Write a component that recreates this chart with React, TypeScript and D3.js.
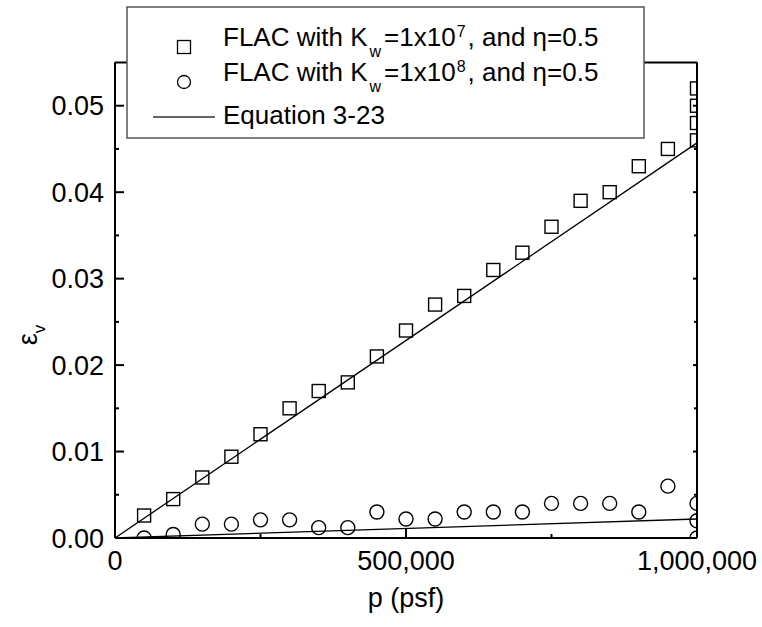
import React from "react";
import * as d3 from "d3";

const squareP = [50000, 100000, 150000, 200000, 250000, 300000, 350000, 400000, 450000, 500000, 550000, 600000, 650000, 700000, 750000, 800000, 850000, 900000, 950000, 1000000, 1000000, 1000000, 1000000];
const squareEps = [0.0026, 0.0045, 0.007, 0.0094, 0.012, 0.015, 0.017, 0.018, 0.021, 0.024, 0.027, 0.028, 0.031, 0.033, 0.036, 0.039, 0.04, 0.043, 0.045, 0.046, 0.048, 0.05, 0.052];

const circleP = [50000, 100000, 150000, 200000, 250000, 300000, 350000, 400000, 450000, 500000, 550000, 600000, 650000, 700000, 750000, 800000, 850000, 900000, 950000, 1000000, 1000000, 1000000];
const circleEps = [0, 0.0004, 0.0016, 0.0016, 0.0021, 0.0021, 0.0012, 0.0012, 0.003, 0.0022, 0.0022, 0.003, 0.003, 0.003, 0.004, 0.004, 0.004, 0.003, 0.006, 0.004, 0.002, 0];

const eqP = [0, 1000000];
const eqEps1 = [0, 0.0457];
const eqEps2 = [0, 0.0022];

const xMajor = [0, 500000, 1000000];
const xMinor = [250000, 750000];
const xTickLabels = ["0", "500,000", "1,000,000"];
const yMajor = [0, 0.01, 0.02, 0.03, 0.04, 0.05];
const yMinor = [0.005, 0.015, 0.025, 0.035, 0.045];
const yTickLabels = ["0.00", "0.01", "0.02", "0.03", "0.04", "0.05"];

const FONT = "'Liberation Sans', Arial, sans-serif";

export default function App() {
  const L = 115, R = 697, T = 62.5, B = 538;
  const x = d3.scaleLinear().domain([0, 1000000]).range([L, R]);
  const y = d3.scaleLinear().domain([0, 0.055]).range([B, T]);
  const line = d3.line<[number, number]>().x(d => x(d[0])).y(d => y(d[1]));
  const ms = 13;

  return (
    <svg width={762} height={627} style={{ position: "absolute", left: 0, top: 0, background: "#fff" }} fontFamily={FONT}>
      <defs>
        <clipPath id="plotclip">
          <rect x={L} y={T} width={R - L} height={B - T} />
        </clipPath>
      </defs>
      <rect x={0} y={0} width={762} height={627} fill="#fff" />
      <g clipPath="url(#plotclip)">
        <path d={line(eqP.map((p, i) => [p, eqEps1[i]]) as [number, number][]) || ""} fill="none" stroke="#000" strokeWidth={1.3} />
        <path d={line(eqP.map((p, i) => [p, eqEps2[i]]) as [number, number][]) || ""} fill="none" stroke="#000" strokeWidth={1.3} />
        {squareP.map((p, i) => (
          <rect key={"s" + i} x={x(p) - ms / 2} y={y(squareEps[i]) - ms / 2} width={ms} height={ms} fill="none" stroke="#000" strokeWidth={1.4} />
        ))}
        {circleP.map((p, i) => (
          <circle key={"c" + i} cx={x(p)} cy={y(circleEps[i])} r={ms / 2 + 0.5} fill="none" stroke="#000" strokeWidth={1.4} />
        ))}
      </g>
      <g stroke="#000" strokeWidth={2} fill="none">
        <line x1={L} y1={B} x2={R} y2={B} />
        <line x1={L} y1={T} x2={L} y2={B} />
        <line x1={R} y1={T} x2={R} y2={B} />
        <line x1={L} y1={T} x2={R} y2={T} />
      </g>
      <g stroke="#000" strokeWidth={2}>
        {yMajor.map((v, i) => <line key={"ym" + i} x1={L} x2={L + 9} y1={y(v)} y2={y(v)} />)}
        {yMinor.map((v, i) => <line key={"yn" + i} x1={L} x2={L + 4} y1={y(v)} y2={y(v)} />)}
        {yMajor.map((v, i) => <line key={"yr" + i} x1={R} x2={R - 4} y1={y(v)} y2={y(v)} />)}
        {yMinor.map((v, i) => <line key={"yrn" + i} x1={R} x2={R - 3} y1={y(v)} y2={y(v)} />)}
        {xMajor.map((v, i) => <line key={"xm" + i} x1={x(v)} x2={x(v)} y1={B} y2={B - 9} />)}
        {xMinor.map((v, i) => <line key={"xn" + i} x1={x(v)} x2={x(v)} y1={B} y2={B - 4} />)}
        {xMajor.map((v, i) => <line key={"xt" + i} x1={x(v)} x2={x(v)} y1={T} y2={T + 4} />)}
        {xMinor.map((v, i) => <line key={"xtn" + i} x1={x(v)} x2={x(v)} y1={T} y2={T + 3} />)}
      </g>
      <g fontSize={27} fill="#000">
        {yMajor.map((v, i) => (
          <text key={"yl" + i} x={104} y={y(v)} dy="0.36em" textAnchor="end">{yTickLabels[i]}</text>
        ))}
        {xMajor.map((v, i) => (
          <text key={"xl" + i} x={x(v)} y={570} textAnchor="middle">{xTickLabels[i]}</text>
        ))}
      </g>
      <text x={(L + R) / 2} y={607} fontSize={27} textAnchor="middle">p (psf)</text>
      <text transform={`translate(37, 335) rotate(-90)`} fontSize={27} textAnchor="middle">
        ε<tspan fontSize={17} dy={8}>v</tspan>
      </text>
      <rect x={127} y={7} width={517} height={131} fill="#fff" stroke="#555" strokeWidth={1.5} />
      <rect x={184 - 6.5} y={47 - 6.5} width={13} height={13} fill="none" stroke="#000" strokeWidth={1.3} />
      <circle cx={184} cy={82} r={6.5} fill="none" stroke="#000" strokeWidth={1.3} />
      <line x1={153} x2={215} y1={117} y2={117} stroke="#333" strokeWidth={1.3} />
      <g fontSize={26} fill="#000">
        <text x={223} y={46}>
          FLAC with K<tspan fontSize={16} dx={2} dy={11}>w</tspan><tspan dx={3} dy={-11}>=1x10</tspan><tspan fontSize={16} dx={1} dy={-9}>7</tspan><tspan dx={2} dy={9}>, and η=0.5</tspan>
        </text>
        <text x={223} y={81}>
          FLAC with K<tspan fontSize={16} dx={2} dy={11}>w</tspan><tspan dx={3} dy={-11}>=1x10</tspan><tspan fontSize={16} dx={1} dy={-9}>8</tspan><tspan dx={2} dy={9}>, and η=0.5</tspan>
        </text>
        <text x={223} y={124}>Equation 3-23</text>
      </g>
    </svg>
  );
}
